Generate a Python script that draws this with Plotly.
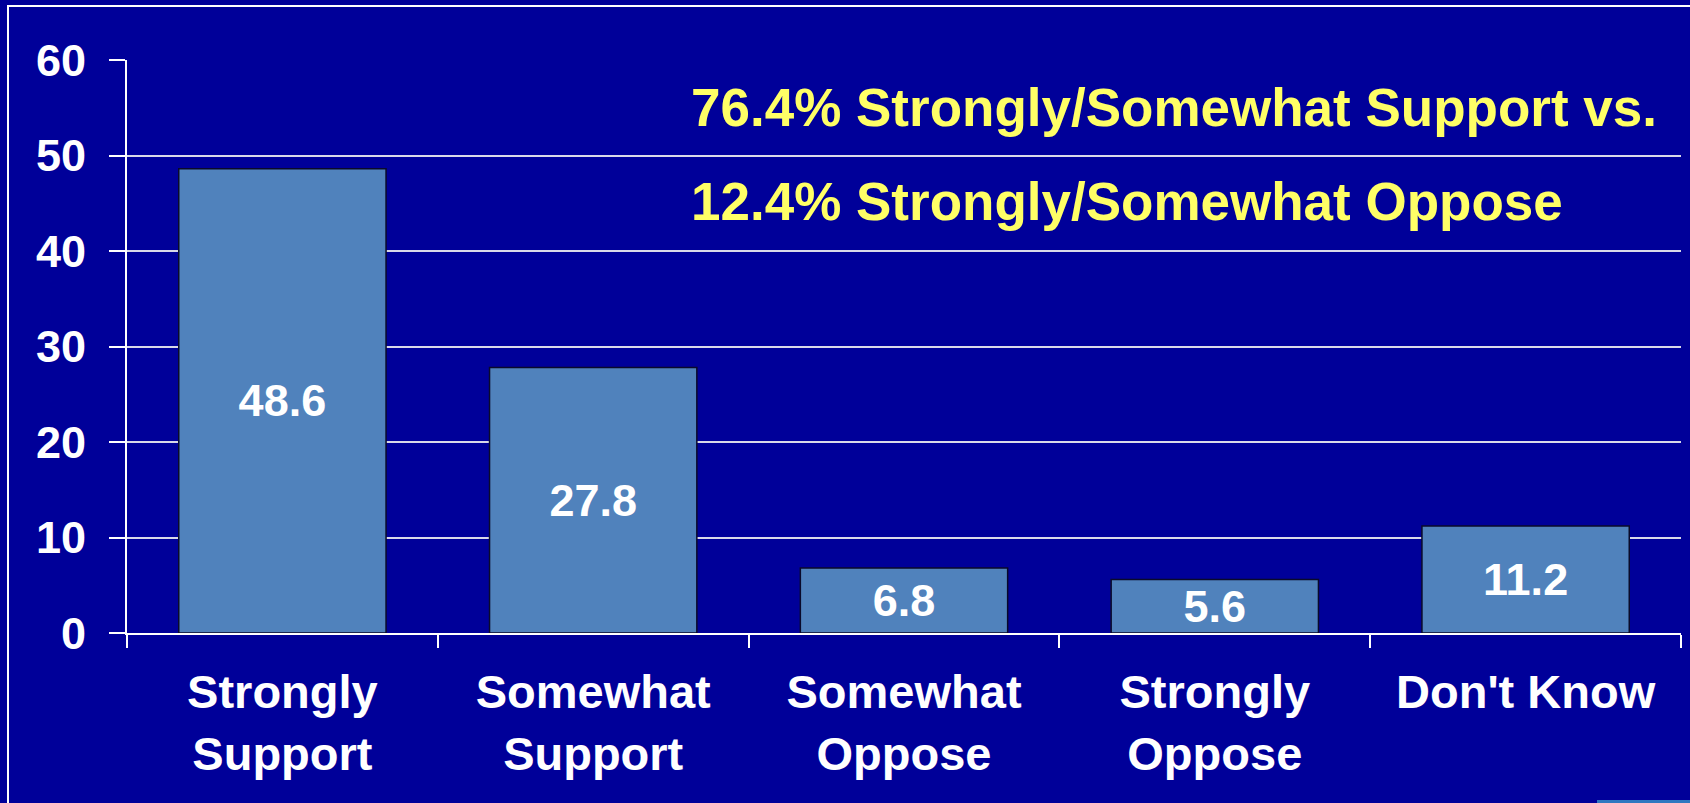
import plotly.graph_objects as go

categories = ["Strongly<br>Support", "Somewhat<br>Support", "Somewhat<br>Oppose", "Strongly<br>Oppose", "Don't Know"]
values = [48.6, 27.8, 6.8, 5.6, 11.2]
value_labels = ["48.6", "27.8", "6.8", "5.6", "11.2"]
y_ticks = [0, 10, 20, 30, 40, 50, 60]
note_lines = ["76.4% Strongly/Somewhat Support vs.", "12.4% Strongly/Somewhat Oppose"]

BG = "#000099"
BAR = "#5082BC"
FONT = "Arial, Liberation Sans, Helvetica, sans-serif"

W, H = 1690, 803
L, R, T, B = 127, 9, 60, 170
pw, ph = W - L - R, H - T - B

def px_x(px):
    return (px - L) / pw

def px_y(py):
    return (H - B - py) / ph

fig = go.Figure()
fig.add_trace(go.Bar(
    x=categories, y=values, text=value_labels,
    textposition="inside", insidetextanchor="middle",
    textfont=dict(family=FONT, size=45, color="white", weight="bold"),
    marker=dict(color=BAR, line=dict(color="#0a0a2a", width=1.5)),
    hoverinfo="skip",
))

annotations = []
for i, (line, py) in enumerate(zip(note_lines, [108, 202])):
    annotations.append(dict(
        x=px_x(689), y=px_y(py), xref="paper", yref="paper",
        xanchor="left", yanchor="middle", showarrow=False, text=line,
        font=dict(family=FONT, size=53, color="#FFFF66", weight="bold"),
    ))

fig.update_layout(
    width=W, height=H,
    margin=dict(l=L, r=R, t=T, b=B, pad=0),
    paper_bgcolor=BG, plot_bgcolor=BG,
    bargap=0.333,
    showlegend=False,
    uniformtext=dict(minsize=45, mode="show"),
    annotations=annotations,
    shapes=[
        dict(type="rect", xref="paper", yref="paper",
             x0=px_x(8), x1=px_x(1700), y0=px_y(810), y1=px_y(6),
             line=dict(color="white", width=2), fillcolor="rgba(0,0,0,0)", layer="below"),
        dict(type="rect", xref="paper", yref="paper",
             x0=px_x(1597), x1=px_x(1692), y0=px_y(805), y1=px_y(800),
             line=dict(width=0), fillcolor="#2f78c0", layer="above"),
    ],
    xaxis=dict(
        showline=True, linecolor="white", linewidth=2,
        ticks="outside", ticklen=13, tickwidth=2, tickcolor="white",
        tickson="boundaries",
        showgrid=False, zeroline=False,
        tickfont=dict(family=FONT, size=47, color="white", weight="bold"),
        ticklabelstandoff=17,
    ),
    yaxis=dict(
        range=[0, 60], tickvals=y_ticks,
        showline=True, linecolor="white", linewidth=2,
        ticks="outside", ticklen=16, tickwidth=2, tickcolor="white",
        showgrid=True, gridcolor="#d8d8e8", gridwidth=2,
        zeroline=False,
        tickfont=dict(family=FONT, size=45, color="white", weight="bold"),
        ticklabelstandoff=14,
    ),
)

fig.write_html("out.html")
